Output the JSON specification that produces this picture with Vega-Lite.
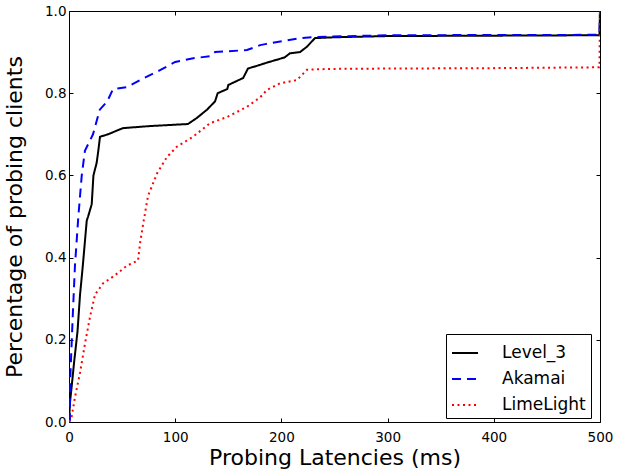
{
  "$schema": "https://vega.github.io/schema/vega-lite/v6.json",
  "width": 531,
  "height": 411,
  "autosize": {"type": "none"},
  "padding": {"left": 69, "top": 11, "right": 31, "bottom": 51},
  "background": "white",
  "config": {
    "font": "DejaVu Sans",
    "view": {"stroke": null},
    "axis": {
      "grid": false,
      "domainColor": "black",
      "tickColor": "black",
      "labelColor": "black",
      "titleColor": "black",
      "labelFont": "DejaVu Sans",
      "titleFont": "DejaVu Sans",
      "labelFontSize": 13.5,
      "titleFontSize": 22,
      "titleFontWeight": "normal",
      "labelFlush": false,
      "tickSize": -4,
      "domainWidth": 1,
      "tickWidth": 1
    },
    "legend": {"labelFont": "DejaVu Sans"}
  },
  "data": {
    "values": [
      {"cdn": "Level_3", "i": 0, "x": 0, "y": 0},
      {"cdn": "Level_3", "i": 1, "x": 1, "y": 0.05},
      {"cdn": "Level_3", "i": 2, "x": 2.5, "y": 0.086},
      {"cdn": "Level_3", "i": 3, "x": 5, "y": 0.15},
      {"cdn": "Level_3", "i": 4, "x": 8, "y": 0.22},
      {"cdn": "Level_3", "i": 5, "x": 10.4, "y": 0.31},
      {"cdn": "Level_3", "i": 6, "x": 13, "y": 0.38},
      {"cdn": "Level_3", "i": 7, "x": 16.7, "y": 0.49},
      {"cdn": "Level_3", "i": 8, "x": 18, "y": 0.5},
      {"cdn": "Level_3", "i": 9, "x": 21.4, "y": 0.53},
      {"cdn": "Level_3", "i": 10, "x": 23, "y": 0.6},
      {"cdn": "Level_3", "i": 11, "x": 26, "y": 0.63},
      {"cdn": "Level_3", "i": 12, "x": 27.6, "y": 0.66},
      {"cdn": "Level_3", "i": 13, "x": 29.2, "y": 0.694},
      {"cdn": "Level_3", "i": 14, "x": 36.7, "y": 0.7},
      {"cdn": "Level_3", "i": 15, "x": 50.8, "y": 0.715},
      {"cdn": "Level_3", "i": 16, "x": 76, "y": 0.72},
      {"cdn": "Level_3", "i": 17, "x": 112, "y": 0.725},
      {"cdn": "Level_3", "i": 18, "x": 120.5, "y": 0.74},
      {"cdn": "Level_3", "i": 19, "x": 130, "y": 0.76},
      {"cdn": "Level_3", "i": 20, "x": 137.5, "y": 0.78},
      {"cdn": "Level_3", "i": 21, "x": 140, "y": 0.8},
      {"cdn": "Level_3", "i": 22, "x": 149, "y": 0.81},
      {"cdn": "Level_3", "i": 23, "x": 150, "y": 0.82},
      {"cdn": "Level_3", "i": 24, "x": 164, "y": 0.837},
      {"cdn": "Level_3", "i": 25, "x": 168.5, "y": 0.86},
      {"cdn": "Level_3", "i": 26, "x": 180, "y": 0.869},
      {"cdn": "Level_3", "i": 27, "x": 184.6, "y": 0.873},
      {"cdn": "Level_3", "i": 28, "x": 203, "y": 0.887},
      {"cdn": "Level_3", "i": 29, "x": 208, "y": 0.897},
      {"cdn": "Level_3", "i": 30, "x": 217.5, "y": 0.9},
      {"cdn": "Level_3", "i": 31, "x": 224, "y": 0.913},
      {"cdn": "Level_3", "i": 32, "x": 231.6, "y": 0.934},
      {"cdn": "Level_3", "i": 33, "x": 248.6, "y": 0.936},
      {"cdn": "Level_3", "i": 34, "x": 300, "y": 0.939},
      {"cdn": "Level_3", "i": 35, "x": 400, "y": 0.94},
      {"cdn": "Level_3", "i": 36, "x": 499.5, "y": 0.941},
      {"cdn": "Level_3", "i": 37, "x": 500, "y": 1.0},
      {"cdn": "Akamai", "i": 0, "x": 0, "y": 0},
      {"cdn": "Akamai", "i": 1, "x": 0.9, "y": 0.005},
      {"cdn": "Akamai", "i": 2, "x": 1, "y": 0.095},
      {"cdn": "Akamai", "i": 3, "x": 3.5, "y": 0.256},
      {"cdn": "Akamai", "i": 4, "x": 5.6, "y": 0.38},
      {"cdn": "Akamai", "i": 5, "x": 8.8, "y": 0.5},
      {"cdn": "Akamai", "i": 6, "x": 12, "y": 0.6},
      {"cdn": "Akamai", "i": 7, "x": 15, "y": 0.66},
      {"cdn": "Akamai", "i": 8, "x": 22.6, "y": 0.7},
      {"cdn": "Akamai", "i": 9, "x": 29, "y": 0.76},
      {"cdn": "Akamai", "i": 10, "x": 36, "y": 0.78},
      {"cdn": "Akamai", "i": 11, "x": 41.4, "y": 0.81},
      {"cdn": "Akamai", "i": 12, "x": 54.6, "y": 0.815},
      {"cdn": "Akamai", "i": 13, "x": 67, "y": 0.832},
      {"cdn": "Akamai", "i": 14, "x": 85.7, "y": 0.856},
      {"cdn": "Akamai", "i": 15, "x": 100, "y": 0.876},
      {"cdn": "Akamai", "i": 16, "x": 117, "y": 0.885},
      {"cdn": "Akamai", "i": 17, "x": 133, "y": 0.89},
      {"cdn": "Akamai", "i": 18, "x": 137.5, "y": 0.9},
      {"cdn": "Akamai", "i": 19, "x": 167.6, "y": 0.905},
      {"cdn": "Akamai", "i": 20, "x": 180, "y": 0.917},
      {"cdn": "Akamai", "i": 21, "x": 186, "y": 0.92},
      {"cdn": "Akamai", "i": 22, "x": 217.5, "y": 0.934},
      {"cdn": "Akamai", "i": 23, "x": 233.5, "y": 0.937},
      {"cdn": "Akamai", "i": 24, "x": 300, "y": 0.941},
      {"cdn": "Akamai", "i": 25, "x": 499.5, "y": 0.942},
      {"cdn": "Akamai", "i": 26, "x": 500, "y": 1.0},
      {"cdn": "LimeLight", "i": 0, "x": 0, "y": 0},
      {"cdn": "LimeLight", "i": 1, "x": 2.5, "y": 0.013},
      {"cdn": "LimeLight", "i": 2, "x": 5.6, "y": 0.06},
      {"cdn": "LimeLight", "i": 3, "x": 10.4, "y": 0.12},
      {"cdn": "LimeLight", "i": 4, "x": 15, "y": 0.19},
      {"cdn": "LimeLight", "i": 5, "x": 19.8, "y": 0.256},
      {"cdn": "LimeLight", "i": 6, "x": 24.5, "y": 0.31},
      {"cdn": "LimeLight", "i": 7, "x": 32, "y": 0.337},
      {"cdn": "LimeLight", "i": 8, "x": 43.3, "y": 0.357},
      {"cdn": "LimeLight", "i": 9, "x": 54.3, "y": 0.38},
      {"cdn": "LimeLight", "i": 10, "x": 65, "y": 0.393},
      {"cdn": "LimeLight", "i": 11, "x": 66.9, "y": 0.435},
      {"cdn": "LimeLight", "i": 12, "x": 69.7, "y": 0.48},
      {"cdn": "LimeLight", "i": 13, "x": 74.4, "y": 0.55},
      {"cdn": "LimeLight", "i": 14, "x": 82.9, "y": 0.605},
      {"cdn": "LimeLight", "i": 15, "x": 92.3, "y": 0.645},
      {"cdn": "LimeLight", "i": 16, "x": 101.7, "y": 0.67},
      {"cdn": "LimeLight", "i": 17, "x": 116.8, "y": 0.694},
      {"cdn": "LimeLight", "i": 18, "x": 132.8, "y": 0.727},
      {"cdn": "LimeLight", "i": 19, "x": 148.8, "y": 0.742},
      {"cdn": "LimeLight", "i": 20, "x": 167.6, "y": 0.767},
      {"cdn": "LimeLight", "i": 21, "x": 180, "y": 0.79},
      {"cdn": "LimeLight", "i": 22, "x": 186.4, "y": 0.808},
      {"cdn": "LimeLight", "i": 23, "x": 198.7, "y": 0.824},
      {"cdn": "LimeLight", "i": 24, "x": 214.7, "y": 0.832},
      {"cdn": "LimeLight", "i": 25, "x": 224, "y": 0.857},
      {"cdn": "LimeLight", "i": 26, "x": 243, "y": 0.859},
      {"cdn": "LimeLight", "i": 27, "x": 300, "y": 0.86},
      {"cdn": "LimeLight", "i": 28, "x": 400, "y": 0.861},
      {"cdn": "LimeLight", "i": 29, "x": 499.5, "y": 0.863},
      {"cdn": "LimeLight", "i": 30, "x": 500, "y": 1.0}
    ]
  },
  "layer": [
    {
      "mark": {"type": "line", "strokeWidth": 2, "clip": true},
      "encoding": {
        "x": {
          "field": "x", "type": "quantitative",
          "scale": {"domain": [0, 500], "nice": false},
          "axis": {"title": "Probing Latencies (ms)", "values": [0, 100, 200, 300, 400, 500], "labelPadding": 12, "titlePadding": 4}
        },
        "y": {
          "field": "y", "type": "quantitative",
          "scale": {"domain": [0, 1], "nice": false},
          "axis": {"title": "Percentage of probing clients", "format": ".1f", "values": [0, 0.2, 0.4, 0.6, 0.8, 1.0], "labelPadding": 7, "titlePadding": 18}
        },
        "color": {
          "field": "cdn", "type": "nominal",
          "scale": {"domain": ["Level_3", "Akamai", "LimeLight"], "range": ["black", "blue", "red"]},
          "legend": {
            "title": null, "orient": "none", "legendX": 377, "legendY": 323,
            "symbolType": "stroke", "symbolSize": 676, "symbolStrokeWidth": 2,
            "labelFontSize": 17, "labelColor": "black", "strokeColor": "black",
            "padding": 5, "rowPadding": 4, "labelOffset": 23, "fillColor": "white"
          }
        },
        "strokeDash": {
          "field": "cdn", "type": "nominal",
          "scale": {"domain": ["Level_3", "Akamai", "LimeLight"], "range": [[1, 0], [9, 6], [2, 3.5]]},
          "legend": {
            "title": null, "orient": "none", "legendX": 377, "legendY": 323,
            "symbolType": "stroke", "symbolSize": 676, "symbolStrokeWidth": 2,
            "labelFontSize": 17, "labelColor": "black", "strokeColor": "black",
            "padding": 5, "rowPadding": 4, "labelOffset": 23, "fillColor": "white"
          }
        },
        "order": {"field": "i", "type": "quantitative"}
      }
    },
    {
      "mark": {"type": "line", "opacity": 0},
      "encoding": {
        "x": {"field": "x", "type": "quantitative", "axis": {"orient": "top", "labels": false, "title": null, "values": [0, 100, 200, 300, 400, 500]}},
        "y": {"field": "y", "type": "quantitative", "axis": {"orient": "right", "labels": false, "title": null, "values": [0, 0.2, 0.4, 0.6, 0.8, 1.0]}},
        "detail": {"field": "cdn"}
      }
    }
  ],
  "resolve": {"axis": {"x": "independent", "y": "independent"}}
}
